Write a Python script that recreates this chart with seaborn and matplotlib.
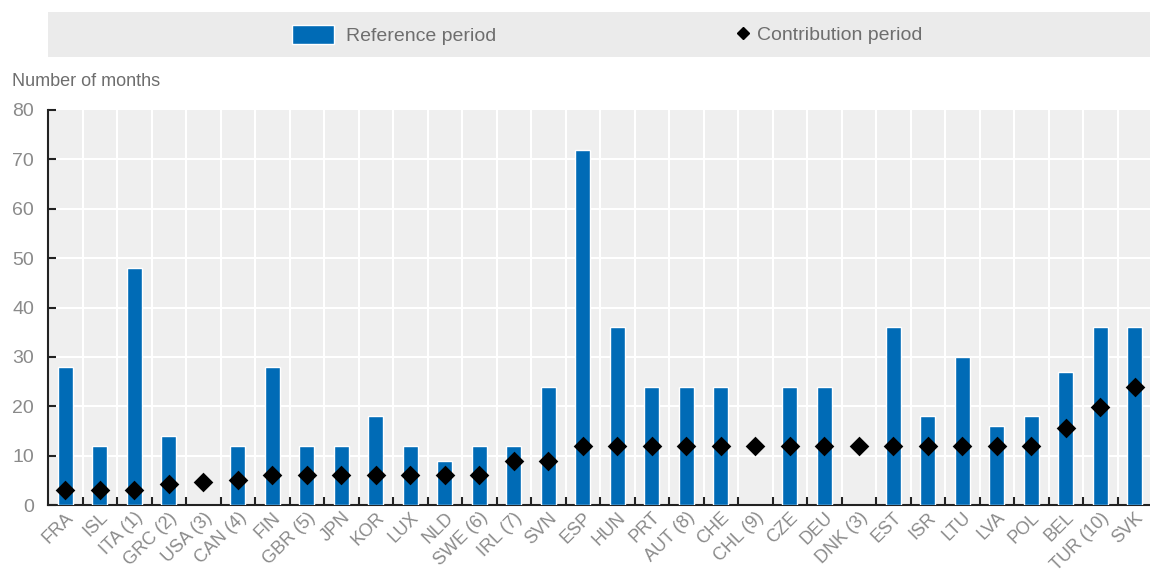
import numpy as np
import pandas as pd
import matplotlib
matplotlib.use("Agg")
import matplotlib.pyplot as plt
from matplotlib.patches import Rectangle
from matplotlib.lines import Line2D
from matplotlib.ticker import FixedLocator
import seaborn as sns

countries = ["FRA", "ISL", "ITA (1)", "GRC (2)", "USA (3)", "CAN (4)", "FIN", "GBR (5)",
             "JPN", "KOR", "LUX", "NLD", "SWE (6)", "IRL (7)", "SVN", "ESP", "HUN", "PRT",
             "AUT (8)", "CHE", "CHL (9)", "CZE", "DEU", "DNK (3)", "EST", "ISR", "LTU",
             "LVA", "POL", "BEL", "TUR (10)", "SVK"]
reference = [28, 12, 48, 14, np.nan, 12, 28, 12, 12, 18, 12, 9, 12, 12, 24, 72, 36, 24,
             24, 24, np.nan, 24, 24, np.nan, 36, 18, 30, 16, 18, 27, 36, 36]
contribution = [3, 3, 3, 4.2, 4.6, 5.1, 6, 6, 6, 6, 6, 6, 6, 9, 9, 12, 12, 12,
                12, 12, 12, 12, 12, 12, 12, 12, 12, 12, 12, 15.5, 19.8, 24]

df = pd.DataFrame({"country": countries, "reference": reference, "contribution": contribution})

blue = "#006bb6"
grey_txt = "#8a8a8a"

sns.set_style("white")
plt.rcParams["font.family"] = ["Liberation Sans", "DejaVu Sans"]

fig = plt.figure(figsize=(11.5, 5.73), dpi=100)
ax = fig.add_axes([48 / 1150, 1 - 505 / 573, 1104 / 1150, 395 / 573])
ax.set_facecolor("#efefef")
ax.set_axisbelow(False)

sns.barplot(data=df, x="country", y="reference", order=countries, color=blue,
            width=0.43, saturation=1, ax=ax, zorder=3)
sns.stripplot(data=df, x="country", y="contribution", order=countries, color="black",
              marker="D", size=10, jitter=False, ax=ax, zorder=4)

n = len(countries)
ax.set_xlim(-0.5, n - 0.5)
ax.set_ylim(0, 80)
ax.set_yticks(range(0, 81, 10))
ax.set_xlabel("")
ax.set_ylabel("")

# grid: white lines between categories and at every 10
for b in np.arange(0.5, n - 0.5, 1):
    ax.axvline(b, color="white", lw=1.5, zorder=1)
for yv in range(10, 80, 10):
    ax.axhline(yv, color="white", lw=1.5, zorder=1)

ax.xaxis.set_minor_locator(FixedLocator(np.arange(0.5, n - 0.5, 1)))
ax.tick_params(axis="x", which="both", bottom=True)
ax.tick_params(axis="y", left=True)
ax.tick_params(axis="x", which="major", length=0, labelsize=13, labelcolor=grey_txt,
               labelrotation=45, pad=3)
for lbl in ax.get_xticklabels():
    lbl.set_ha("right")
    lbl.set_rotation_mode("anchor")
ax.tick_params(axis="x", which="minor", direction="in", length=6, width=1.5, color="#222222")
ax.tick_params(axis="y", direction="in", length=6, width=1.5, color="#222222",
               labelsize=14, labelcolor=grey_txt, pad=10)

for s in ["top", "right"]:
    ax.spines[s].set_visible(False)
ax.spines["left"].set_color("#222222")
ax.spines["left"].set_linewidth(1.5)
ax.spines["bottom"].set_color("#222222")
ax.spines["bottom"].set_linewidth(1.5)

fig.text(12 / 1150, 1 - 82 / 573, "Number of months", fontsize=13, color="#6e6e6e", va="center")

# legend band
fig.patches.append(Rectangle((48 / 1150, 1 - 57 / 573), 1102 / 1150, 45 / 573,
                             transform=fig.transFigure, facecolor="#ebebeb",
                             edgecolor="none", zorder=0))
h1 = Rectangle((0, 0), 1, 1, facecolor=blue)
h2 = Line2D([], [], marker="D", color="black", linestyle="none", markersize=6)
fig.legend([h1], ["Reference period"], loc="center left",
           bbox_to_anchor=(274 / 1150, 1 - 35 / 573), frameon=False, fontsize=14,
           labelcolor="#6e6e6e", handlelength=2.2, handleheight=1.1, handletextpad=0.6)
fig.legend([h2], ["Contribution period"], loc="center left",
           bbox_to_anchor=(718 / 1150, 1 - 35 / 573), frameon=False, fontsize=14,
           labelcolor="#6e6e6e", handlelength=0.8, handletextpad=0.3)

fig.savefig("out.png", dpi=100)
